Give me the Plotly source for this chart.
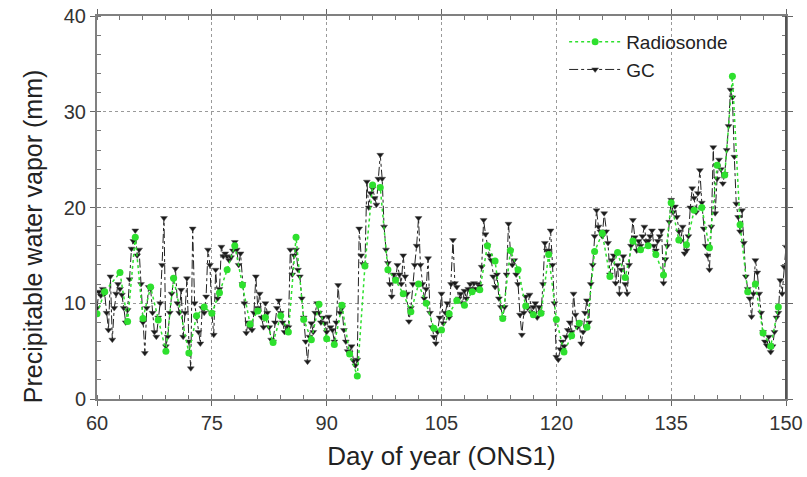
import numpy as np
import plotly.graph_objects as go

# Radiosonde launches (day of year) and precipitable water vapor (mm)
rs_days = [60, 61, 63, 64, 65, 66, 67, 68, 69, 70,
           72, 73, 74, 75, 76, 77, 78, 79, 80, 81,
           82, 83, 84, 85, 86, 87, 88, 89, 90, 91,
           92, 93, 94, 95, 96, 97, 98, 99, 100, 101,
           102, 103, 104, 105, 106, 107, 108, 109, 110, 111,
           112, 113, 114, 115, 116, 117, 118, 119, 120, 121,
           122, 123, 124, 125, 126, 127, 128, 129, 130, 131,
           132, 133, 134, 135, 136, 137, 138, 139, 140, 141,
           142, 143, 144, 145, 146, 147, 148, 149]
rs_pwv = [8.9, 11.2, 13.2, 8.1, 16.9, 8.4, 11.7, 8.25, 5.0, 12.6,
          4.8, 8.7, 9.6, 8.95, 11.1, 13.5, 16.0, 11.9, 7.8, 9.2,
          8.5, 5.9, 8.7, 7.0, 16.9, 8.3, 6.2, 9.9, 6.3, 5.7,
          9.8, 4.7, 2.4, 13.9, 22.35, 22.1, 13.5, 12.4, 11.0, 9.1,
          12.0, 10.0, 7.4, 7.2, 8.9, 10.3, 9.8, 11.2, 11.4, 16.0,
          14.4, 8.4, 15.5, 13.5, 9.7, 8.8, 8.95, 15.1, 8.3, 4.9,
          6.6, 7.9, 7.5, 15.4, 17.3, 12.8, 15.3, 12.7, 16.5, 15.6,
          16.0, 15.1, 12.95, 20.5, 16.6, 16.1, 19.7, 20.0, 15.8, 24.4,
          23.4, 33.7, 18.2, 11.2, 12.0, 6.9, 5.5, 9.6]

# GC estimates every 6 hours, one row per day (00, 06, 12, 18 UTC)
gc_pwv = [
    9.5, 11.2, 10.8, 11.5,    # 60
    11.0, 9.0, 7.2, 12.8,     # 61
    6.2, 9.5, 11.0, 12.0,     # 62
    11.5, 10.9, 9.5, 8.0,     # 63
    9.3, 12.5, 15.7, 16.5,    # 64
    17.6, 15.0, 15.6, 12.0,   # 65
    8.0, 4.8, 9.5, 11.7,      # 66
    11.5, 9.0, 7.0, 6.5,      # 67
    8.5, 10.0, 14.0, 18.9,    # 68
    5.5, 6.5, 9.0, 11.0,      # 69
    12.5, 13.6, 10.0, 9.0,    # 70
    11.4, 6.5, 9.0, 12.6,     # 71
    6.0, 3.2, 17.8, 10.0,     # 72
    8.5, 7.0, 5.8, 9.5,       # 73
    9.0, 10.7, 15.6, 14.0,    # 74
    9.0, 6.7, 13.5, 10.5,     # 75
    11.5, 15.9, 14.9, 15.2,   # 76
    14.9, 14.5, 14.8, 15.5,   # 77
    16.4, 15.6, 14.0, 15.2,   # 78
    12.0, 10.0, 6.9, 8.0,     # 79
    7.5, 7.2, 9.0, 12.8,      # 80
    9.5, 11.0, 8.5, 7.5,      # 81
    10.0, 9.0, 7.5, 6.2,      # 82
    6.0, 8.0, 9.5, 10.3,      # 83
    9.0, 8.0, 7.0, 7.6,       # 84
    7.5, 15.6, 13.0, 15.0,    # 85
    15.6, 13.5, 12.8, 10.5,   # 86
    8.5, 6.0, 3.9, 6.5,       # 87
    7.9, 7.0, 9.0, 10.0,      # 88
    9.0, 8.0, 8.5, 7.9,       # 89
    7.0, 8.6, 7.5, 7.2,       # 90
    6.0, 8.0, 11.9, 9.0,      # 91
    9.5, 7.2, 6.0, 5.0,       # 92
    4.8, 5.5, 4.0, 3.5,       # 93
    4.1, 17.8, 15.0, 14.1,    # 94
    14.0, 22.7, 20.0, 21.5,   # 95
    22.0, 21.0, 20.3, 23.0,   # 96
    25.5, 23.0, 18.0, 15.6,   # 97
    14.2, 12.0, 10.7, 13.0,   # 98
    12.5, 14.0, 13.0, 12.0,   # 99
    15.0, 12.8, 11.0, 8.1,    # 100
    9.5, 12.0, 14.0, 16.0,    # 101
    18.9, 14.0, 12.0, 10.5,   # 102
    11.5, 14.7, 9.0, 7.5,     # 103
    6.5, 5.8, 7.0, 8.5,       # 104
    11.0, 7.9, 9.0, 10.0,     # 105
    8.5, 12.0, 16.6, 12.1,    # 106
    11.7, 10.5, 11.0, 10.0,   # 107
    11.3, 10.5, 11.5, 12.0,   # 108
    11.5, 12.1, 11.5, 12.0,   # 109
    11.8, 13.8, 18.7, 17.2,   # 110
    16.0, 15.0, 14.5, 12.8,   # 111
    11.7, 13.0, 10.5, 9.6,    # 112
    8.5, 9.6, 13.0, 18.3,     # 113
    15.5, 14.0, 14.5, 13.0,   # 114
    12.0, 8.8, 6.7, 9.0,      # 115
    10.7, 9.5, 10.9, 9.0,     # 116
    9.6, 10.0, 8.5, 9.6,      # 117
    9.0, 12.0, 16.3, 15.5,    # 118
    15.5, 17.6, 14.0, 10.0,   # 119
    4.4, 4.1, 5.2, 6.0,       # 120
    5.5, 6.5, 7.2, 8.0,       # 121
    7.0, 11.0, 8.8, 7.5,      # 122
    8.0, 5.8, 7.0, 9.0,       # 123
    10.3, 8.0, 12.0, 14.0,    # 124
    17.0, 19.7, 18.0, 17.5,   # 125
    17.0, 19.4, 17.5, 16.3,   # 126
    13.0, 14.5, 15.0, 12.1,   # 127
    14.0, 11.0, 13.5, 14.9,   # 128
    12.0, 11.0, 14.0, 16.0,   # 129
    18.7, 16.9, 15.5, 16.5,   # 130
    16.0, 17.0, 18.0, 16.5,   # 131
    16.5, 17.0, 17.6, 16.0,   # 132
    15.5, 16.5, 17.0, 17.6,   # 133
    12.1, 14.6, 16.0, 18.5,   # 134
    20.8, 19.5, 20.1, 19.0,   # 135
    17.5, 16.5, 18.0, 15.2,   # 136
    15.5, 17.0, 20.0, 22.0,   # 137
    21.0, 19.5, 21.5, 23.9,   # 138
    20.5, 17.8, 16.0, 15.0,   # 139
    13.5, 18.0, 26.3, 19.4,   # 140
    23.0, 25.0, 24.0, 22.5,   # 141
    23.5, 26.0, 28.5, 32.3,   # 142
    31.5, 25.3, 20.4, 19.0,   # 143
    17.5, 19.7, 16.3, 12.8,   # 144
    11.5, 10.5, 8.6, 11.0,    # 145
    14.5, 13.2, 11.0, 9.0,    # 146
    7.0, 6.0, 5.6, 6.5,       # 147
    4.9, 5.5, 7.0, 8.5,       # 148
    9.0, 12.4, 11.0, 13.8,    # 149
    15.9,                     # 150
]
gc_days = 60 + 0.25 * np.arange(len(gc_pwv))

x_ticks = [60, 75, 90, 105, 120, 135, 150]
y_ticks = [0, 10, 20, 30, 40]

FONT = "Liberation Sans, Arial, sans-serif"

fig = go.Figure()
fig.add_trace(go.Scatter(
    x=gc_days, y=gc_pwv, name="GC", mode="lines+markers",
    line=dict(color="#222222", width=1, dash="dashdot"),
    marker=dict(symbol="triangle-down", size=6, color="#1a1a1a",
                line=dict(color="#555555", width=0.5)),
))
fig.add_trace(go.Scatter(
    x=rs_days, y=rs_pwv, name="Radiosonde", mode="lines+markers",
    line=dict(color="#2ee02e", width=1.5, dash="dot"),
    marker=dict(symbol="circle", size=7, color="#2ee02e"),
))

axis_common = dict(
    showline=True, linecolor="#808080", linewidth=2, mirror="ticks",
    ticks="outside", ticklen=5, tickwidth=1, tickcolor="#666666",
    showgrid=True, gridcolor="#9a9a9a", gridwidth=1, griddash="dot",
    zeroline=False, automargin=False,
    tickfont=dict(family=FONT, size=20, color="#333333"),
)

fig.update_xaxes(
    range=[60, 150], tickvals=x_ticks,
    minor=dict(dtick=3, ticks="inside", ticklen=4, tickcolor="#777777", showgrid=False),
    title=dict(text="Day of year (ONS1)", font=dict(family=FONT, size=26, color="#222222"),
               standoff=14),
    **axis_common,
)
fig.update_yaxes(
    range=[0, 40], tickvals=y_ticks,
    minor=dict(dtick=2, ticks="inside", ticklen=4, tickcolor="#777777", showgrid=False),
    **axis_common,
)

# y-axis title, set slightly below the plot's vertical centre
fig.add_annotation(
    text="Precipitable water vapor (mm)", textangle=-90,
    xref="paper", yref="paper", x=-0.093, y=0.425,
    xanchor="center", yanchor="middle", showarrow=False,
    font=dict(family=FONT, size=25, color="#222222"),
)

# darker frame edge on the right-hand side
fig.add_shape(type="line", xref="paper", yref="paper", x0=1, x1=1, y0=0, y1=1,
              line=dict(color="#555555", width=2))

fig.update_layout(
    width=807, height=477,
    margin=dict(l=97, r=21, t=16, b=78),
    paper_bgcolor="white", plot_bgcolor="white",
    legend=dict(
        x=0.678, y=0.982, xanchor="left", yanchor="top",
        bgcolor="rgba(255,255,255,0)", borderwidth=0,
        font=dict(family=FONT, size=19, color="#222222"),
        traceorder="reversed", itemwidth=52, tracegroupgap=0,
    ),
)

fig.write_html("out.html")
